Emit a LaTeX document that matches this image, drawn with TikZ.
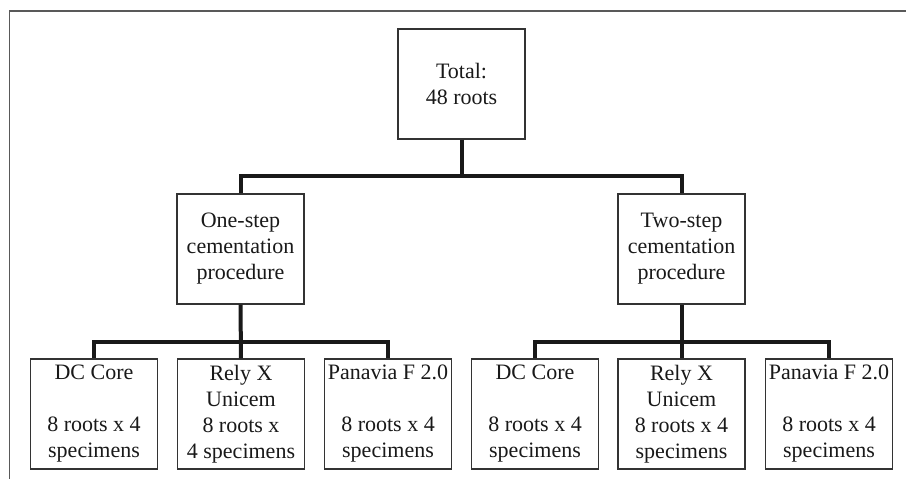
\documentclass[tikz,border=0pt]{standalone}
\usepackage{fontspec}
\setmainfont{Liberation Serif}
\begin{document}
\begin{tikzpicture}[x=1pt,y=-1pt,
  box/.style={draw=black!80, line width=1.3pt, fill=white, minimum width=127pt, minimum height=110pt,
    inner sep=0pt, align=center, font=\fontsize{22}{26}\selectfont, text=black!90},
  conn/.style={line width=4pt, black!90, line join=miter},
  frame/.style={draw=black!65, line width=1.4pt}]
\useasboundingbox (0,0) rectangle (906,479);
\draw[frame] (9.5,479) -- (9.5,11) -- (906,11);
\node[box] (total) at (461.5,84) {Total:\\48 roots};
\node[box] (one) at (240.5,249) {One-step\\cementation\\procedure};
\node[box] (two) at (681.5,249) {Two-step\\cementation\\procedure};
\node[box] (a1) at (94,414) {DC Core\\[26pt]8 roots x 4\\specimens};
\node[box] (a2) at (241,414) {Rely X\\Unicem\\8 roots x\\4 specimens};
\node[box] (a3) at (388,414) {Panavia F 2.0\\[26pt]8 roots x 4\\specimens};
\node[box] (b1) at (535,414) {DC Core\\[26pt]8 roots x 4\\specimens};
\node[box] (b2) at (681.5,414) {Rely X\\Unicem\\8 roots x 4\\specimens};
\node[box] (b3) at (829,414) {Panavia F 2.0\\[26pt]8 roots x 4\\specimens};
\coordinate (j1) at (461.5,176);
\coordinate (j2) at (0,342);
\draw[conn] (total.south) -- (j1);
\draw[conn] (one.north) -- (one.north |- j1) -- (two.north |- j1) -- (two.north);
\draw[conn] (one.south) -- (a2.north);
\draw[conn] (a1.north) -- (a1.north |- j2) -- (a3.north |- j2) -- (a3.north);
\draw[conn] (two.south) -- (b2.north);
\draw[conn] (b1.north) -- (b1.north |- j2) -- (b3.north |- j2) -- (b3.north);
\end{tikzpicture}
\end{document}
